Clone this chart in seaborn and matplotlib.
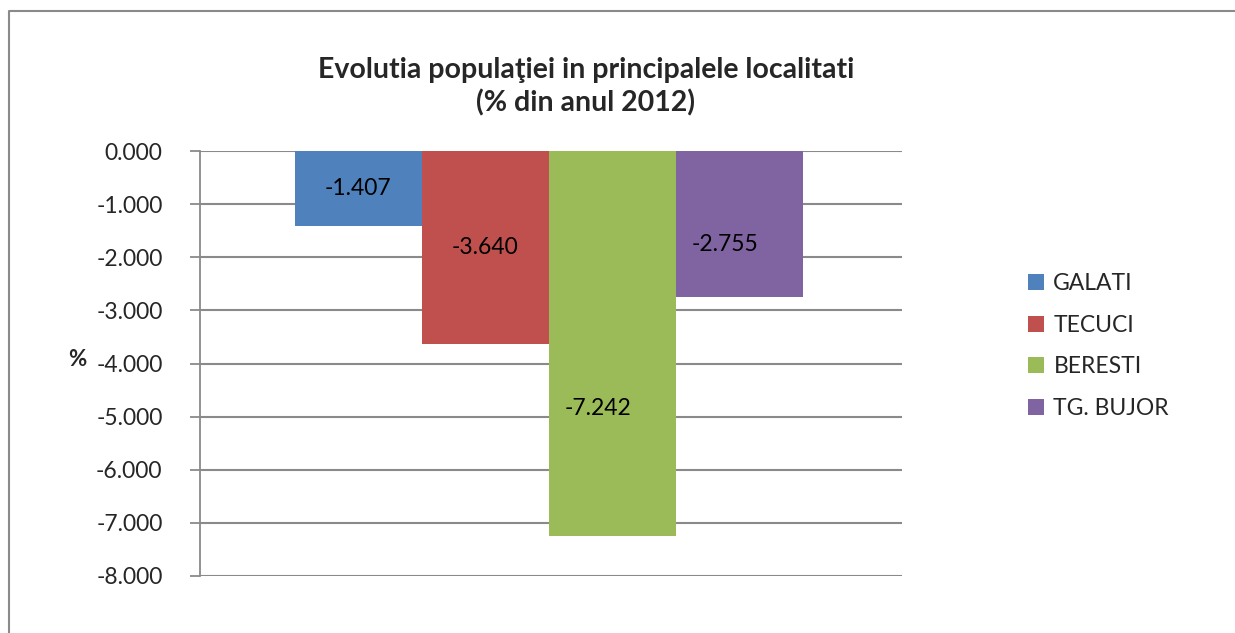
import matplotlib
matplotlib.use("Agg")
import matplotlib.pyplot as plt
import seaborn as sns
import pandas as pd
from matplotlib.lines import Line2D

cities = ["GALATI", "TECUCI", "BERESTI", "TG. BUJOR"]
values = [-1.407, -3.640, -7.242, -2.755]
colors = ["#4F81BD", "#C0504D", "#9BBB59", "#8064A2"]
ticks = [0, -1, -2, -3, -4, -5, -6, -7, -8]
title_lines = ["Evolutia populaţiei in principalele localitati", "(% din anul 2012)"]
# label placement (fraction of bar height) and x nudge (data units), as in the reference
label_frac = [0.50, 0.50, 0.668, 0.64]
label_dx = [0.0, 0.0, -0.023, -0.023]

sns.set_style("white")
plt.rcParams["font.family"] = ["Lato", "DejaVu Sans"]

df = pd.DataFrame({"grp": ["g"] * 4, "city": cities, "val": values})

fig = plt.figure(figsize=(12.35, 6.33), dpi=100)
ax = fig.add_axes([200 / 1235, 1 - 576 / 633, 702 / 1235, (576 - 151) / 633])

sns.barplot(data=df, x="grp", y="val", hue="city", hue_order=cities,
            palette=colors, saturation=1, width=0.8, ax=ax, legend=True,
            errorbar=None, linewidth=0)

ax.set_ylim(-8, 0)
ax.set_xlim(-0.549, 0.556)
ax.set_yticks(ticks)
ax.set_yticklabels([f"{t:.3f}" for t in ticks], fontsize=16.5)
ax.set_xticks([])
ax.set_xlabel("")
ax.set_ylabel("%", rotation=0, fontsize=16, fontweight="bold", va="center")
ax.yaxis.set_label_coords(-0.175, 0.51)

ax.grid(axis="y", color="#8a8a8a", linewidth=1.5)
ax.set_axisbelow(True)
for s in ["top", "right", "bottom"]:
    ax.spines[s].set_visible(False)
ax.spines["left"].set_color("#8a8a8a")
ax.spines["left"].set_linewidth(1.3)
ax.tick_params(axis="y", which="major", length=7, width=1.3, color="#8a8a8a",
               direction="out", pad=20, left=True)

for i, p in enumerate(ax.patches[:4]):
    cx = p.get_x() + p.get_width() / 2 + label_dx[i]
    h = p.get_height()
    ax.text(cx, h * label_frac[i], f"{values[i]:.3f}", ha="center", va="center",
            fontsize=16.5, color="black")

leg = ax.legend(loc="center left", bbox_to_anchor=(1019 / 1235, 1 - 346 / 633),
                bbox_transform=fig.transFigure, frameon=False, fontsize=16.5,
                handlelength=0.7, handleheight=0.7, handletextpad=0.4,
                labelspacing=0.9, borderaxespad=0)

fig.text(586 / 1235, 1 - 70 / 633, title_lines[0], ha="center", va="center",
         fontsize=20.5, fontweight="bold")
fig.text(586 / 1235, 1 - 103 / 633, title_lines[1], ha="center", va="center",
         fontsize=20.5, fontweight="bold")

# chart-area frame: only top and left edges are visible in the crop
bx, by = 9 / 1235, 1 - 11 / 633
fig.lines.append(Line2D([bx, bx, 1.1], [-0.1, by, by], transform=fig.transFigure,
                        color="#8a8a8a", linewidth=1.5))

fig.savefig("out.png", dpi=100)
